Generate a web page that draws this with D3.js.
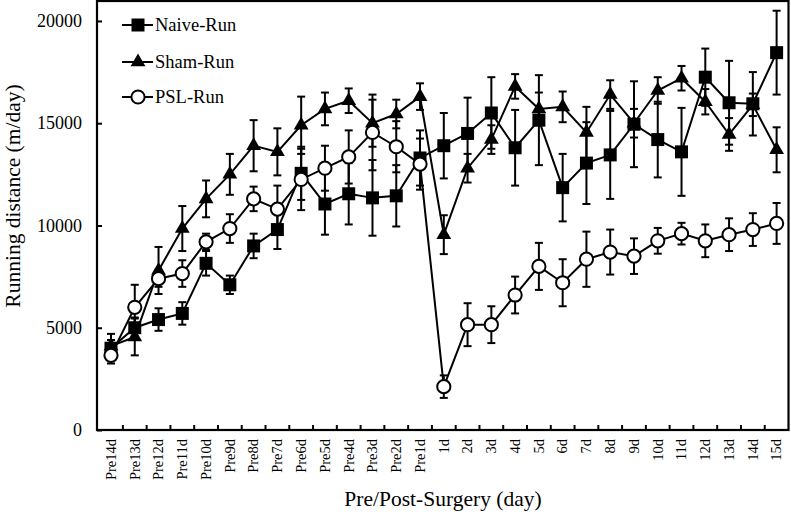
<!DOCTYPE html>
<html>
<head>
<meta charset="utf-8">
<script src="https://cdn.jsdelivr.net/npm/d3@7"></script>
<style>
  html, body { margin: 0; padding: 0; background: #fff; }
  svg { display: block; font-family: "Liberation Serif", "Times New Roman", serif; }
</style>
</head>
<body>
<svg id="chart" width="791" height="514"></svg>
<script>
const categories = ["Pre14d","Pre13d","Pre12d","Pre11d","Pre10d","Pre9d","Pre8d","Pre7d","Pre6d","Pre5d","Pre4d","Pre3d","Pre2d","Pre1d",
  "1d","2d","3d","4d","5d","6d","7d","8d","9d","10d","11d","12d","13d","14d","15d"];

const naive    = [4000,5000,5400,5700,8150,7100,9000,9800,12550,11050,11550,11350,11450,13300,13900,14500,15500,13800,15150,11850,13050,13450,14950,14200,13600,17250,16000,15950,18450];
const naiveErr = [400,500,550,550,600,450,600,950,1300,1500,1500,1850,1500,1350,1600,1750,1750,1850,2200,1650,2000,2150,2100,1850,2150,1400,2050,1550,2050];

const sham     = [4100,4550,7800,9850,11300,12500,13900,13600,14900,15700,16100,15000,15450,16300,9550,12800,14200,16800,15700,15800,14550,16400,15000,16600,17200,16050,14450,15900,13700];
const shamErr  = [600,900,1150,1100,900,1000,1250,1150,1400,800,600,1150,700,650,950,700,700,600,800,750,1250,700,700,650,600,620,800,550,1100];

const psl      = [3650,6000,7400,7650,9200,9850,11300,10800,12250,12800,13350,14550,13850,13000,2120,5150,5150,6600,8000,7200,8350,8700,8500,9250,9600,9250,9550,9800,10100];
const pslErr   = [400,1100,400,650,400,700,600,1150,1500,1100,1300,1850,1250,1250,550,1050,900,900,1150,1150,1350,1100,870,630,530,800,800,800,1000];

const yTicks = [0,5000,10000,15000,20000];
const seriesNames = ["Naive-Run","Sham-Run","PSL-Run"];

(function () {
const svg = d3.select("#chart");
const pLeft = 97, pRight = 788.5, pTop = 1, pBottom = 430;

const x = d3.scaleBand().domain(categories).range([99.1, pRight]).padding(0);
const y = d3.scaleLinear().domain([0, 21000]).range([pBottom, 0.5]);
const cx = d => x(d) + x.bandwidth() / 2;

// frame
svg.append("rect").attr("x", pLeft).attr("y", pTop).attr("width", pRight - pLeft).attr("height", pBottom - pTop)
  .attr("fill", "none").attr("stroke", "#000").attr("stroke-width", 2.2);

// y axis ticks (inward) and labels
const yAxis = d3.axisLeft(y).tickValues(yTicks).tickFormat(d3.format("d"))
  .tickSizeInner(-5).tickSizeOuter(0).tickPadding(15);
const gy = svg.append("g").attr("transform", `translate(${pLeft},0)`).call(yAxis);
gy.select(".domain").remove();
gy.selectAll(".tick line").attr("stroke", "#000").attr("stroke-width", 2);
gy.selectAll(".tick text").attr("font-size", 18).attr("font-family", "Liberation Serif").attr("fill", "#000");

// x axis: ticks at band boundaries (inward)
const boundaries = categories.slice(1).map(c => x(c));
svg.append("g").selectAll("line").data(boundaries).join("line")
  .attr("x1", d => d).attr("x2", d => d).attr("y1", pBottom).attr("y2", pBottom - 5)
  .attr("stroke", "#000").attr("stroke-width", 2);

const xAxis = d3.axisBottom(x).tickSize(0).tickPadding(0);
const gx = svg.append("g").attr("transform", `translate(0,${pBottom})`).call(xAxis);
gx.select(".domain").remove();
gx.selectAll(".tick text")
  .attr("font-size", 14.5).attr("font-family", "Liberation Serif").attr("fill", "#000")
  .attr("text-anchor", "end").attr("transform", "translate(0,9) rotate(-90)")
  .attr("dx", 0).attr("dy", "0.33em").attr("y", 0).attr("x", 0);

// axis titles
svg.append("text").attr("x", 443).attr("y", 506).attr("text-anchor", "middle")
  .attr("font-size", 21.5).text("Pre/Post-Surgery (day)");
svg.append("text").attr("transform", "translate(20,196) rotate(-90)").attr("text-anchor", "middle")
  .attr("font-size", 21.5).text("Running distance (m/day)");

// series
const sqSym = d3.symbol().type(d3.symbolSquare).size(169);
const triSym = d3.symbol().type(d3.symbolTriangle).size(95);

function drawSeries(vals, errs, kind) {
  const g = svg.append("g");
  const pts = categories.map((c, i) => ({c, v: vals[i], e: errs[i]}));
  const eb = g.append("g").attr("stroke", "#000").attr("stroke-width", 2);
  pts.forEach(p => {
    const xc = cx(p.c), y1 = y(p.v + p.e), y2 = y(p.v - p.e);
    eb.append("line").attr("x1", xc).attr("x2", xc).attr("y1", y1).attr("y2", y2);
    eb.append("line").attr("x1", xc - 4).attr("x2", xc + 4).attr("y1", y1).attr("y2", y1);
    eb.append("line").attr("x1", xc - 4).attr("x2", xc + 4).attr("y1", y2).attr("y2", y2);
  });
  g.append("path").datum(pts)
    .attr("d", d3.line().x(p => cx(p.c)).y(p => y(p.v)))
    .attr("fill", "none").attr("stroke", "#000").attr("stroke-width", 2);
  if (kind === "square") {
    g.selectAll(".m").data(pts).join("path").attr("d", sqSym)
      .attr("transform", p => `translate(${cx(p.c)},${y(p.v)})`).attr("fill", "#000");
  } else if (kind === "triangle") {
    g.selectAll(".m").data(pts).join("path").attr("d", triSym)
      .attr("transform", p => `translate(${cx(p.c)},${y(p.v)})`).attr("fill", "#000");
  } else {
    g.selectAll(".m").data(pts).join("circle")
      .attr("cx", p => cx(p.c)).attr("cy", p => y(p.v)).attr("r", 6.6)
      .attr("fill", "#fff").attr("stroke", "#000").attr("stroke-width", 2);
  }
}

drawSeries(sham, shamErr, "triangle");
drawSeries(naive, naiveErr, "square");
drawSeries(psl, pslErr, "circle");

// legend
const legY = [25, 62, 97];
const kinds = ["square", "triangle", "circle"];
seriesNames.forEach((name, i) => {
  const g = svg.append("g").attr("transform", `translate(0,${legY[i]})`);
  g.append("line").attr("x1", 122).attr("x2", 153).attr("y1", 0).attr("y2", 0)
    .attr("stroke", "#000").attr("stroke-width", 2);
  if (kinds[i] === "square") g.append("path").attr("d", sqSym()).attr("transform", "translate(138,0)").attr("fill", "#000");
  else if (kinds[i] === "triangle") g.append("path").attr("d", triSym()).attr("transform", "translate(138,0)").attr("fill", "#000");
  else g.append("circle").attr("cx", 138).attr("cy", 0).attr("r", 6.6).attr("fill", "#fff").attr("stroke", "#000").attr("stroke-width", 2);
  g.append("text").attr("x", 155).attr("y", 0).attr("dy", "0.35em").attr("font-size", 18.5).text(name);
});
})();
</script>
</body>
</html>
